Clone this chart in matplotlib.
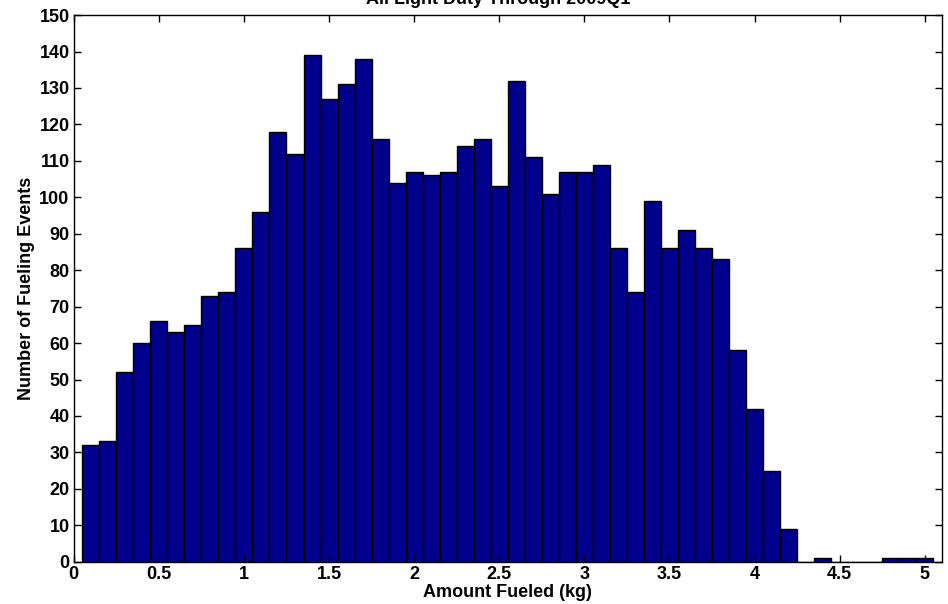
import numpy as np
import matplotlib
matplotlib.use("Agg")
import matplotlib.pyplot as plt

# Histogram bin centres (kg) and counts of fueling events per bin
bin_centers = [round(0.1 * i, 1) for i in range(1, 51)]
counts = [32, 33, 52, 60, 66, 63, 65, 73, 74, 86,
          96, 118, 112, 139, 127, 131, 138, 116, 104, 107,
          106, 107, 114, 116, 103, 132, 111, 101, 107, 107,
          109, 86, 74, 99, 86, 91, 86, 83, 58, 42,
          25, 9, 0, 1, 0, 0, 0, 1, 1, 1]

x_ticks = [0, 0.5, 1, 1.5, 2, 2.5, 3, 3.5, 4, 4.5, 5]
x_tick_labels = ["0", "0.5", "1", "1.5", "2", "2.5", "3", "3.5", "4", "4.5", "5"]
y_ticks = list(range(0, 151, 10))

title = "All Light Duty Through 2009Q1"
x_label = "Amount Fueled (kg)"
y_label = "Number of Fueling Events"

plt.rcParams["font.family"] = ["Liberation Sans", "DejaVu Sans"]
plt.rcParams["font.weight"] = "bold"

fig = plt.figure(figsize=(9.48, 6.04), dpi=100)
ax = fig.add_axes([0.0778, 0.070, 0.9156, 0.905])

ax.bar(bin_centers, counts, width=0.1, align="center",
       color="#00008c", edgecolor="black", linewidth=1.0)

ax.set_xlim(0, 5.1)
ax.set_ylim(0, 150)
ax.set_xticks(x_ticks)
ax.set_xticklabels(x_tick_labels)
ax.set_yticks(y_ticks)

ax.tick_params(direction="in", top=True, right=True, length=5, width=1,
               labelsize=13, pad=3)
for lbl in ax.get_xticklabels() + ax.get_yticklabels():
    lbl.set_fontweight("bold")
for s in ax.spines.values():
    s.set_linewidth(1.0)

ax.set_xlabel(x_label, fontsize=13, fontweight="bold", labelpad=1)
ax.set_ylabel(y_label, fontsize=13, fontweight="bold", labelpad=3)
fig.text(0.525, 0.993, title, ha="center", va="baseline",
         fontsize=13, fontweight="bold")

fig.savefig("out.png", dpi=100)
